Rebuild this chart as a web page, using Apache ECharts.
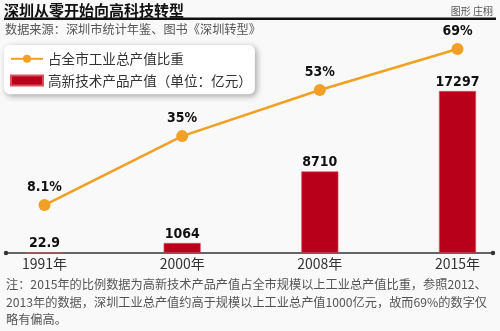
<!DOCTYPE html>
<html><head><meta charset="utf-8">
<script src="https://cdn.jsdelivr.net/npm/echarts@6/dist/echarts.min.js"></script>
<style>html,body{margin:0;padding:0;background:#f9f9f9}#c{width:500px;height:331px}</style>
</head><body><div id="c"></div>
<script>
var categories = ['1991年', '2000年', '2008年', '2015年'];
var shareValues = [8.1, 35, 53, 69];
var shareLabels = ['8.1%', '35%', '53%', '69%'];
var outputValues = [22.9, 1064, 8710, 17297];
var seriesNames = ['占全市工业总产值比重', '高新技术产品产值（单位：亿元）'];
var titleText = '深圳从零开始向高科技转型';
var sourceText = '数据来源：深圳市统计年鉴、图书《深圳转型》';
var creditText = '图形 庄栩';
var noteText = '注：2015年的比例数据为高新技术产品产值占全市规模以上工业总产值比重，参照2012、\n2013年的数据，深圳工业总产值约高于规模以上工业总产值1000亿元，故而69%的数字仅\n略有偏高。';

var CJK = '"Noto Sans CJK SC", "Noto Sans", sans-serif';
var NUM = '"DejaVu Sans Condensed", "Liberation Sans Narrow", "Liberation Sans", sans-serif';

var chart = echarts.init(document.getElementById('c'));
chart.setOption({
  backgroundColor: '#f9f9f9',
  animation: false,
  title: [
    {text: titleText, left: 4, top: 3, padding: 0,
     textStyle: {fontFamily: CJK, fontSize: 15, fontWeight: 'bold', color: '#111'}},
    {text: creditText, right: 7, top: 6, padding: 0,
     textStyle: {fontFamily: CJK, fontSize: 10, fontWeight: 'normal', color: '#555'}},
    {text: sourceText, left: 5, top: 23, padding: 0,
     textStyle: {fontFamily: CJK, fontSize: 12.2, fontWeight: 'normal', color: '#555'}},
    {text: noteText, left: 6, top: 276, padding: 0,
     textStyle: {fontFamily: CJK, fontSize: 12.2, fontWeight: 'normal', color: '#555', lineHeight: 17.5}}
  ],
  graphic: [
    {type: 'rect', shape: {x: 4, y: 17.5, width: 492, height: 2.5}, style: {fill: '#111'}},
    {type: 'line', shape: {x1: 6, y1: 253, x2: 493, y2: 253}, style: {stroke: '#333', lineWidth: 1.5}},
    {type: 'circle', shape: {cx: 6, cy: 253, r: 2.2}, style: {fill: '#333'}},
    {type: 'circle', shape: {cx: 493, cy: 253, r: 2.2}, style: {fill: '#333'}}
  ],
  legend: {
    orient: 'vertical', left: 4, top: 45,
    padding: [7, 3, 7, 6],
    itemGap: 8, itemWidth: 32, itemHeight: 10,
    backgroundColor: '#fff', borderRadius: 6,
    shadowBlur: 6, shadowColor: 'rgba(0,0,0,0.35)', shadowOffsetX: 2, shadowOffsetY: 2,
    textStyle: {fontFamily: CJK, fontSize: 13.6, color: '#333'},
    data: [{name: seriesNames[0]}, {name: seriesNames[1], icon: 'rect'}]
  },
  grid: {left: 44.5, right: 42.5, top: 40, bottom: 78, containLabel: false},
  xAxis: {
    type: 'category', data: categories, boundaryGap: false,
    axisLine: {show: false}, axisTick: {show: false},
    axisLabel: {margin: 4, fontFamily: CJK, fontSize: 14, color: '#333'}
  },
  yAxis: [
    {type: 'value', min: 0, max: 22750, show: false, splitLine: {show: false}},
    {type: 'value', min: -10.6, max: 72.5, show: false, splitLine: {show: false}}
  ],
  series: [
    {
      name: seriesNames[1], type: 'bar', yAxisIndex: 0, data: outputValues,
      barWidth: 37, z: 2,
      itemStyle: {color: '#b8001b', borderColor: '#d9505a', borderWidth: 0.6},
      label: {show: true, position: 'top', distance: 2,
              fontFamily: NUM, fontWeight: 'bold', fontSize: 14, color: '#111'}
    },
    {
      name: seriesNames[0], type: 'line', yAxisIndex: 1, data: shareValues,
      symbol: 'circle', symbolSize: 12, z: 3,
      lineStyle: {color: '#f0a024', width: 2.6},
      itemStyle: {color: '#f0a024'},
      label: {show: true, position: 'top', distance: 5,
              fontFamily: NUM, fontWeight: 'bold', fontSize: 14, color: '#111',
              formatter: function (p) { return shareLabels[p.dataIndex]; }}
    }
  ]
});
</script></body></html>
